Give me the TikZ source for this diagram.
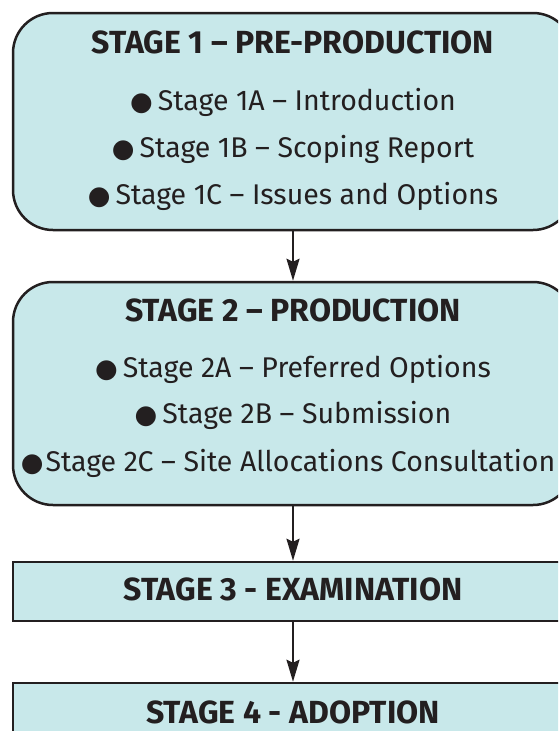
\documentclass[tikz,border=0pt]{standalone}
\usepackage{fontspec}
\setmainfont{Fira Sans}
\newfontfamily\symfont{DejaVu Sans}
\usetikzlibrary{arrows.meta}
\definecolor{boxfill}{HTML}{C8E8EA}
\definecolor{ink}{HTML}{231F20}
\newcommand{\bulglyph}{{\symfont\fontsize{26}{26}\selectfont ●}}
\newcommand{\bul}{\bulglyph\hspace{5pt}}
\tikzset{
  stagebox/.style={draw=ink, fill=boxfill, line width=2.5pt, inner sep=0pt, minimum width=560pt},
  roundbox/.style={stagebox, rounded corners=40pt},
  ttl/.style={anchor=base, inner sep=0pt, text=ink, font=\fontsize{32}{34}\selectfont\bfseries},
  itm/.style={anchor=base, inner sep=0pt, text=ink, font=\fontsize{28.5}{30}\selectfont},
  arr/.style={draw=ink, line width=2pt, -{Stealth[length=22pt,width=13pt,inset=3pt]}}
}
\begin{document}
\begin{tikzpicture}[x=1pt,y=1pt]
\useasboundingbox (0,0) rectangle (558,-731);
\clip (0,0) rectangle (558,-731);
\node[roundbox, minimum height=217pt] (s1) at (293,-121.5) {};
\node[roundbox, minimum height=223pt] (s2) at (293,-393.5) {};
\node[stagebox, minimum height=59pt] (s3) at (293,-591.5) {};
\node[stagebox, minimum height=97pt] (s4) at (293,-731.5) {};
\node[ttl] (t1) at (293,-53) {STAGE 1 – PRE-PRODUCTION};
\node[itm] (i1a) at (293,-110) {\bul Stage 1A – Introduction};
\node[itm] (i1b) at (293,-157) {\bul Stage 1B – Scoping Report};
\node[itm] (i1c) at (293,-204) {\bul Stage 1C – Issues and Options};
\node[ttl] (t2) at (293,-321) {STAGE 2 – PRODUCTION};
\node[itm] (i2a) at (293,-377) {\bul Stage 2A – Preferred Options};
\node[itm] (i2b) at (293,-423) {\bul Stage 2B – Submission};
\node[itm] (i2c) at (288,-471) {\bulglyph\hspace{2pt}Stage 2C – Site Allocations Consultation};
\node[ttl] (t3) at (293,-600) {STAGE 3 - EXAMINATION};
\node[ttl] (t4) at (293,-723) {STAGE 4 - ADOPTION};
\draw[arr] (s1.south) -- (s2.north);
\draw[arr] (s2.south) -- (s3.north);
\draw[arr] (s3.south) -- (s4.north);
\end{tikzpicture}
\end{document}
